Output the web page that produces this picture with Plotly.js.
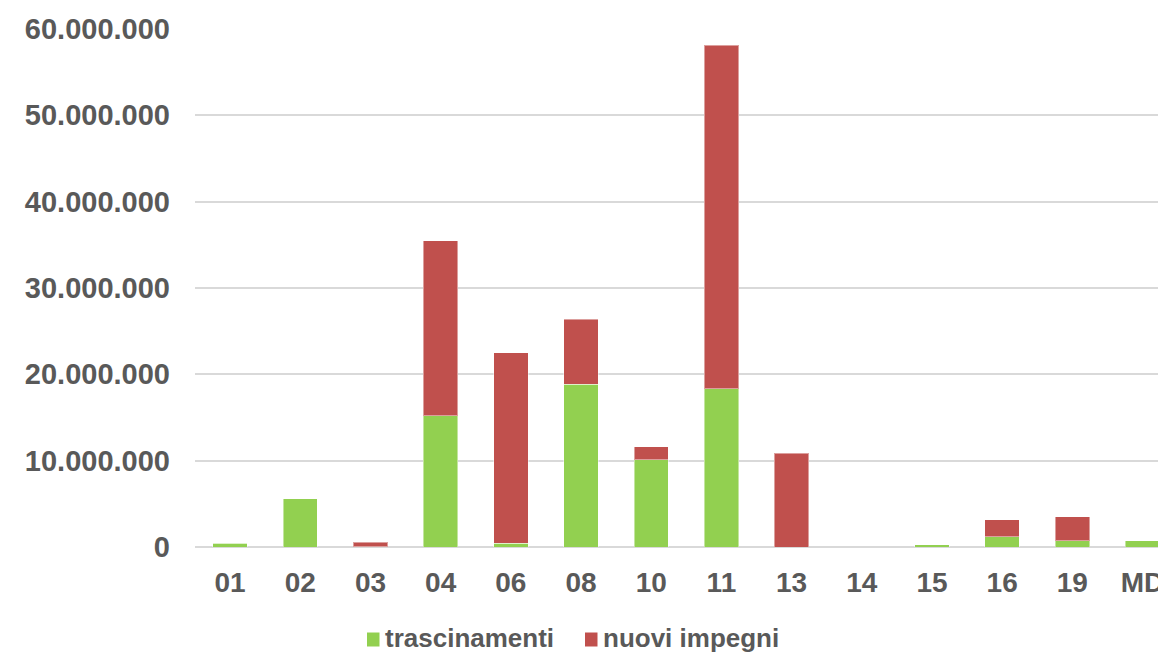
<!DOCTYPE html>
<html>
<head>
<meta charset="utf-8">
<script src="https://cdn.plot.ly/plotly-3.0.1.min.js"></script>
<style>html,body{margin:0;padding:0;background:#fff;}#chart{width:1158px;height:652px;}</style>
</head>
<body>
<div id="chart"></div>
<script>
const categories = ['01','02','03','04','06','08','10','11','13','14','15','16','19','MD'];
const trascinamenti = [450000, 5600000, 50000, 15200000, 450000, 18850000, 10120000, 18350000, 0, 0, 270000, 1200000, 700000, 700000];
const nuoviImpegni = [0, 0, 500000, 20260000, 22050000, 7530000, 1470000, 39750000, 10860000, 0, 0, 1930000, 2780000, 0];
const yTickVals = [0, 10000000, 20000000, 30000000, 40000000, 50000000, 60000000];
const seriesNames = ['trascinamenti', 'nuovi impegni'];
const seriesColors = ['#92D050', '#C0504D'];

const textColor = '#595959';
const fontFam = '"Liberation Sans", Arial, sans-serif';

const W = 1158, H = 652, ML = 195, MT = 29, MB = 105;
const PW = W - ML, PH = H - MT - MB;
const px = v => (v - ML) / PW;
const py = v => (H - MB - v) / PH;

const traces = [
  {type:'bar', name:seriesNames[0], x:categories, y:trascinamenti, showlegend:false,
   marker:{color:seriesColors[0], line:{color:'rgba(255,255,255,0.45)', width:1}}},
  {type:'bar', name:seriesNames[1], x:categories, y:nuoviImpegni, showlegend:false,
   marker:{color:seriesColors[1], line:{color:'rgba(255,255,255,0.45)', width:1}}}
];

// manual legend (layout decoration)
const legendItems = [{sq:367, tx:384}, {sq:585, tx:602}];
const shapes = legendItems.map((it, i) => ({
  type:'rect', xref:'paper', yref:'paper',
  x0:px(it.sq), x1:px(it.sq + 12.5), y0:py(646.5), y1:py(632.5),
  fillcolor:seriesColors[i], line:{width:0}
}));
const annotations = legendItems.map((it, i) => ({
  xref:'paper', yref:'paper', x:px(it.tx), y:py(637.5), xanchor:'left', yanchor:'middle',
  text:seriesNames[i], showarrow:false, borderpad:0,
  font:{family:fontFam, size:26, color:textColor, weight:'bold'}
}));

const layout = {
  width:W, height:H,
  margin:{l:ML, r:0, t:MT, b:MB, pad:0},
  barmode:'stack', bargap:0.51,
  separators:',.',
  paper_bgcolor:'#ffffff', plot_bgcolor:'#ffffff',
  font:{family:fontFam, color:textColor, size:28, weight:'bold'},
  xaxis:{type:'category', range:[-0.5, 13.22], showgrid:false, zeroline:false,
         showline:false, ticks:'', ticklabelstandoff:16, automargin:false,
         tickfont:{family:fontFam, size:28, color:textColor, weight:'bold'}},
  yaxis:{range:[0, 60000000], tickvals:yTickVals, tickformat:',.0f', automargin:false,
         showgrid:true, gridcolor:'#d9d9d9', gridwidth:2,
         zeroline:true, zerolinecolor:'#d9d9d9', zerolinewidth:2,
         showline:false, ticks:'', ticklabelstandoff:24,
         tickfont:{family:fontFam, size:29, color:textColor, weight:'bold'}},
  showlegend:false,
  shapes:shapes,
  annotations:annotations,
  hovermode:false
};

Plotly.newPlot('chart', traces, layout, {displayModeBar:false, staticPlot:true});
</script>
</body>
</html>
